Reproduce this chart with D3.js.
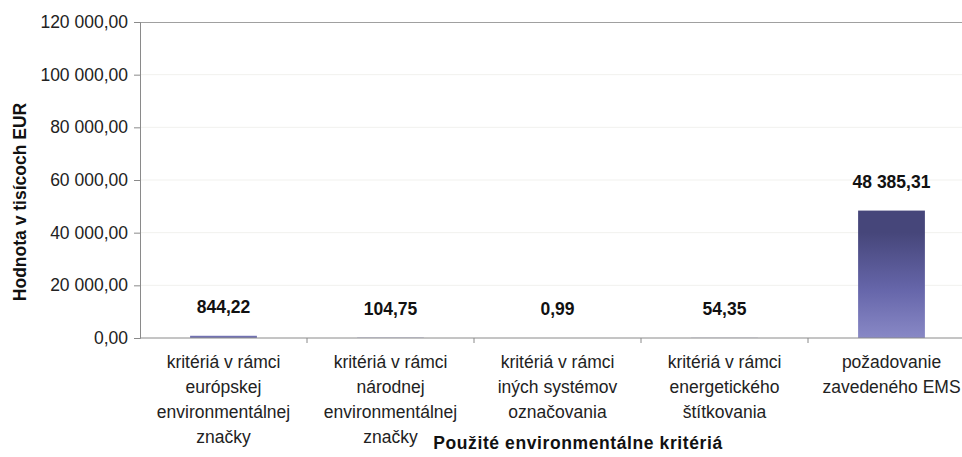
<!DOCTYPE html>
<html>
<head>
<meta charset="utf-8">
<script src="https://cdn.jsdelivr.net/npm/d3@7"></script>
<style>
body { margin: 0; background: #fff; }
text { font-family: "Liberation Sans", Arial, sans-serif; }
</style>
</head>
<body>
<div id="chart"></div>
<script>
var width = 962, height = 457;

var categories = [
    ["kritériá v rámci", "európskej", "environmentálnej", "značky"],
    ["kritériá v rámci", "národnej", "environmentálnej", "značky"],
    ["kritériá v rámci", "iných systémov", "označovania"],
    ["kritériá v rámci", "energetického", "štítkovania"],
    ["požadovanie", "zavedeného EMS"]
];
var values = [844.22, 104.75, 0.99, 54.35, 48385.31];
var yTicks = [0, 20000, 40000, 60000, 80000, 100000, 120000];

var margin = { left: 140, top: 22, right: -13, bottom: 119 };
var plotW = width - margin.left - margin.right;
var plotH = height - margin.top - margin.bottom;

var locale = d3.formatLocale({ decimal: ",", thousands: "\u00a0", grouping: [3], currency: ["", ""] });
var fmt = locale.format(",.2f");

var svg = d3.select("#chart").append("svg")
    .attr("width", width)
    .attr("height", height);

var defs = svg.append("defs");
var grad = defs.append("linearGradient")
    .attr("id", "barGrad")
    .attr("gradientUnits", "userSpaceOnUse")
    .attr("x1", 0).attr("x2", 0)
    .attr("y1", margin.top + plotH * (1 - 48385 / 120000)).attr("y2", margin.top + plotH);
grad.append("stop").attr("offset", "0%").attr("stop-color", "#46467a");
grad.append("stop").attr("offset", "45%").attr("stop-color", "#6666aa");
grad.append("stop").attr("offset", "100%").attr("stop-color", "#9898d2");

var g = svg.append("g").attr("transform", "translate(" + margin.left + "," + margin.top + ")");

var x = d3.scaleBand()
    .domain(d3.range(categories.length))
    .range([0, plotW])
    .paddingInner(0.6)
    .paddingOuter(0.3);

var xCat = d3.scaleBand()
    .domain(d3.range(categories.length))
    .range([0, plotW]);

var y = d3.scaleLinear().domain([0, 120000]).range([plotH, 0]);

// gridlines
g.selectAll(".grid")
    .data(yTicks.slice(1, -1))
    .enter().append("line")
    .attr("x1", 0).attr("x2", plotW)
    .attr("y1", function (d) { return y(d); })
    .attr("y2", function (d) { return y(d); })
    .attr("stroke", "#f1f1ee")
    .attr("stroke-width", 1);

// top border
g.append("line")
    .attr("x1", 0).attr("x2", plotW)
    .attr("y1", 0.5).attr("y2", 0.5)
    .attr("stroke", "#a0a0a0");

// bars
g.selectAll(".bar")
    .data(values)
    .enter().append("rect")
    .attr("x", function (d, i) { return x(i); })
    .attr("width", x.bandwidth())
    .attr("y", function (d) { return y(d); })
    .attr("height", function (d) { return plotH - y(d); })
    .attr("fill", function (d) { return d > 1000 ? "url(#barGrad)" : "#7272b2"; });

// value labels
g.selectAll(".val")
    .data(values)
    .enter().append("text")
    .attr("x", function (d, i) { return x(i) + x.bandwidth() / 2; })
    .attr("y", function (d) { return y(d) - 23; })
    .attr("text-anchor", "middle")
    .style("font-size", "17.5px")
    .style("font-weight", "bold")
    .attr("fill", "#111")
    .text(function (d) { return fmt(d); });

// y axis
var yAxis = g.append("g")
    .call(d3.axisLeft(y).tickValues(yTicks).tickSize(6).tickPadding(6).tickFormat(fmt));
yAxis.select(".domain").attr("stroke", "#8a8a8a");
yAxis.selectAll(".tick line").attr("stroke", "#8a8a8a");
yAxis.selectAll(".tick text").style("font-size", "17.5px").attr("fill", "#222");

// x axis
var xAxis = g.append("g").attr("transform", "translate(0," + plotH + ")");
xAxis.append("line")
    .attr("x1", 0).attr("x2", plotW)
    .attr("stroke", "#8a8a8a");
xAxis.selectAll(".xt")
    .data(d3.range(1, categories.length))
    .enter().append("line")
    .attr("x1", function (d) { return xCat(d); })
    .attr("x2", function (d) { return xCat(d); })
    .attr("y1", 0).attr("y2", 5)
    .attr("stroke", "#8a8a8a");

var labels = xAxis.selectAll(".xl")
    .data(categories)
    .enter().append("text")
    .attr("text-anchor", "middle")
    .attr("transform", function (d, i) {
        return "translate(" + (xCat(i) + xCat.bandwidth() / 2) + ",30)";
    })
    .style("font-size", "17.5px")
    .attr("fill", "#222");
labels.selectAll("tspan")
    .data(function (d) { return d; })
    .enter().append("tspan")
    .attr("x", 0)
    .attr("y", function (d, i) { return i * 25; })
    .text(function (d) { return d; });

// axis titles
svg.append("text")
    .attr("x", 578)
    .attr("y", 449)
    .attr("text-anchor", "middle")
    .style("font-size", "17.5px")
    .style("font-weight", "bold")
    .style("letter-spacing", "0.6px")
    .attr("fill", "#111")
    .text("Použité environmentálne kritériá");

svg.append("text")
    .attr("transform", "translate(26,202) rotate(-90)")
    .attr("text-anchor", "middle")
    .style("font-size", "17.5px")
    .style("font-weight", "bold")
    .attr("fill", "#111")
    .text("Hodnota v tisícoch EUR");
</script>
</body>
</html>
